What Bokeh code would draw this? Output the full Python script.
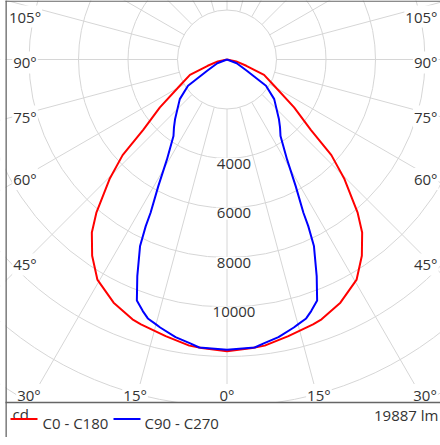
import math
import numpy as np
from bokeh.plotting import figure
from bokeh.models import Range1d
from bokeh.core.properties import value
from bokeh.embed import file_html
from bokeh.resources import INLINE

# ---------------- data ----------------
series_names = ["C0 - C180", "C90 - C270"]
series_colors = ["#ff0000", "#0000ff"]

# C0 - C180 plane: gamma (deg from nadir) and luminous intensity (cd)
gamma_c0 = [0, 5, 7.5, 12.5, 18, 20, 25, 30.5, 34.5, 38, 40.5, 44.5, 47.5, 50,
            54.5, 61, 67.5, 72, 78, 90]
cd_c0 = [11790, 11700, 11660, 11450, 11250, 11170, 10840, 10320, 9620, 8870,
         8120, 6770, 5720, 4420, 3330, 2170, 1620, 820, 380, 0]

# C90 - C270 plane
gamma_c90 = [0, 5.5, 7.5, 10.5, 14, 15, 17, 18.5, 20.5, 22.5, 25, 26, 26.5,
             28.5, 31, 35, 38, 41, 50, 56, 60.5, 69, 90]
cd_c90 = [11730, 11690, 11560, 11410, 11160, 11080, 10940, 10720, 10400, 9470,
          8310, 7490, 6920, 5810, 4710, 3770, 3480, 3200, 2490, 1900, 920, 420, 0]

ring_cd = list(range(2000, 24001, 2000))
ring_label_cd = [4000, 6000, 8000, 10000]
angle_ticks = list(range(0, 181, 15))
unit_label = "cd"
flux_label = "19887 lm"

# ---------------- layout (canvas px) ----------------
W, H = 440, 437
PX_PER_CD = 0.02475
CX, CY = 226.5, 59.0          # polar origin
FRAME_L = 5.0                 # diagram frame left edge
PLOT_BOTTOM = 402.0           # diagram frame bottom
HALF_W = CX - FRAME_L
SIDE_INSET = 202.0
FONT = value("Open Sans")
TEXT_COLOR = "#333333"
GRID = "#d6d6d6"
FRAME = "#666666"
DIGIT_HALF = 5.4


def dx(px):
    return (px - CX) / PX_PER_CD


def dy(py):
    return (CY - py) / PX_PER_CD


p = figure(width=W, height=H,
           x_range=Range1d(dx(0), dx(W)), y_range=Range1d(dy(H), dy(0)),
           output_backend="svg", toolbar_location=None, min_border=0,
           x_axis_type=None, y_axis_type=None)
p.outline_line_color = None
p.background_fill_color = "white"
p.border_fill_color = "white"

# rings
p.circle(x=[0] * len(ring_cd), y=[0] * len(ring_cd), radius=ring_cd,
         fill_color=None, line_color=GRID, line_width=1)

# radial lines
x0, y0, x1, y1 = [], [], [], []
for g in angle_ticks:
    sides = [1] if g in (0, 180) else [-1, 1]
    r = math.radians(g)
    for s in sides:
        x0.append(s * ring_cd[0] * math.sin(r))
        y0.append(-ring_cd[0] * math.cos(r))
        x1.append(s * 40000 * math.sin(r))
        y1.append(-40000 * math.cos(r))
p.segment(x0=x0, y0=y0, x1=x1, y1=y1, line_color=GRID, line_width=1)

# mask left of the frame
p.quad(left=dx(-5), right=dx(FRAME_L), top=dy(-5), bottom=dy(H + 5),
       fill_color="white", line_color=None)

# ring labels
p.text(x=[0] * len(ring_label_cd),
       y=[-v - DIGIT_HALF / PX_PER_CD for v in ring_label_cd],
       text=[str(v) for v in ring_label_cd], x_offset=7,
       text_align="center", text_baseline="alphabetic",
       text_font=FONT, text_font_size="15px", text_color=TEXT_COLOR,
       background_fill_color="white", padding=1)

# angle labels
lx, ly, lt, la = [], [], [], []
bottom_dy = PLOT_BOTTOM - CY
for g in angle_ticks:
    r = math.radians(g)
    sn, cs = math.sin(r), math.cos(r)
    for s in ([1] if g == 0 else [-1, 1]):
        if cs > 0 and bottom_dy * sn / cs <= HALF_W:
            px = CX + s * bottom_dy * sn / cs
            py = PLOT_BOTTOM - 12.8
            align = "center"
        else:
            if sn < 1e-9:
                continue
            exit_y = CY + HALF_W * cs / sn
            if exit_y < -3 or exit_y > PLOT_BOTTOM:
                continue
            py = max(CY + SIDE_INSET * cs / sn - 2.5, 10.7)
            if s < 0:
                px, align = CX - SIDE_INSET, "center"
            else:
                px, align = W - 2, "right"
        lx.append(dx(px))
        ly.append(dy(py + DIGIT_HALF))
        lt.append(f"{g}°")
        la.append(align)
for align in ("center", "right"):
    idx = [i for i, a in enumerate(la) if a == align]
    p.text(x=[lx[i] for i in idx], y=[ly[i] for i in idx],
           text=[lt[i] for i in idx], text_align=align,
           text_baseline="alphabetic", text_font=FONT, text_font_size="15px",
           text_color=TEXT_COLOR, background_fill_color="white", padding=1)


# curves
def polar_xy(gam, cdv):
    g = np.radians(np.array(gam, dtype=float))
    inten = np.array(cdv, dtype=float)
    xr = inten * np.sin(g)
    yr = -inten * np.cos(g)
    xs = np.concatenate([-xr[::-1], xr[1:]])
    ys = np.concatenate([yr[::-1], yr[1:]])
    return xs, ys


for gam, cdv, col in ((gamma_c0, cd_c0, series_colors[0]),
                      (gamma_c90, cd_c90, series_colors[1])):
    xs, ys = polar_xy(gam, cdv)
    p.line(xs, ys, line_color=col, line_width=2)

# legend area cover and frame
p.quad(left=dx(FRAME_L), right=dx(W + 5), top=dy(PLOT_BOTTOM), bottom=dy(H + 5),
       fill_color="white", line_color=None)
p.segment(x0=[dx(FRAME_L), dx(FRAME_L + 0.65), dx(FRAME_L)],
          y0=[dy(0.65), dy(0), dy(PLOT_BOTTOM)],
          x1=[dx(W + 5), dx(FRAME_L + 0.65), dx(W + 5)],
          y1=[dy(0.65), dy(H + 5), dy(PLOT_BOTTOM)],
          line_color=FRAME, line_width=1.3)

# bottom texts
p.text(x=[dx(12)], y=[dy(PLOT_BOTTOM + 11.5)], text=[unit_label], text_align="left",
       text_baseline="alphabetic", text_font=FONT, text_font_size="15px",
       text_color=TEXT_COLOR)
p.text(x=[dx(W - 2)], y=[dy(PLOT_BOTTOM + 12)], text=[flux_label], text_align="right",
       text_baseline="alphabetic", text_font=FONT, text_font_size="15px",
       text_color=TEXT_COLOR)

# legend
leg_line_x = [(10, 37), (113, 140)]
leg_text_x = [42, 144]
for name, col, (a, b), tx in zip(series_names, series_colors, leg_line_x, leg_text_x):
    p.segment(x0=[dx(a)], y0=[dy(PLOT_BOTTOM + 16.5)], x1=[dx(b)], y1=[dy(PLOT_BOTTOM + 16.5)],
              line_color=col, line_width=2)
    p.text(x=[dx(tx)], y=[dy(PLOT_BOTTOM + 20.5)], text=[name], text_align="left",
           text_baseline="alphabetic", text_font=FONT, text_font_size="15px",
           text_color=TEXT_COLOR)

open("out.html", "w").write(file_html(p, INLINE))
